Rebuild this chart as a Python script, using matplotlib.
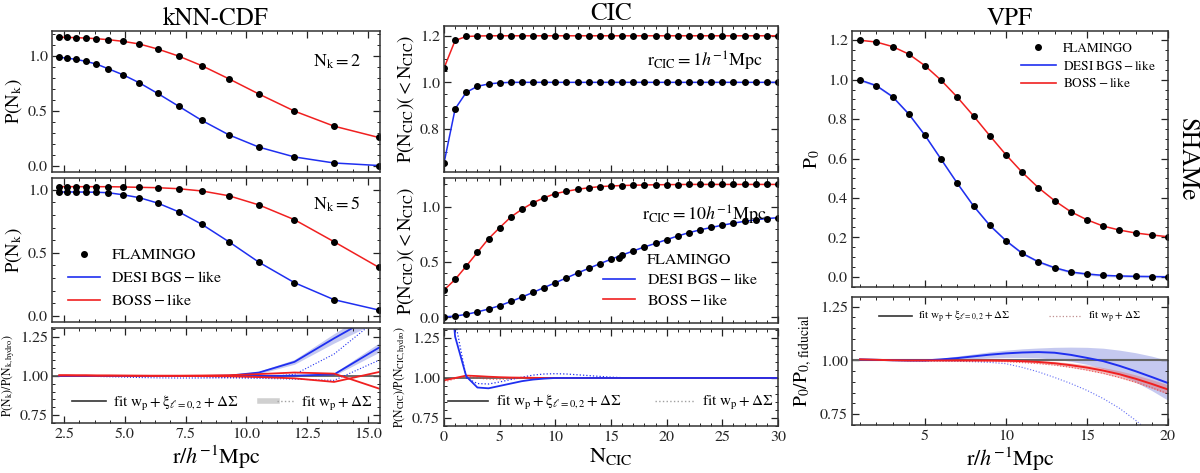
import numpy as np
import matplotlib
matplotlib.use('Agg')
import matplotlib.pyplot as plt
from matplotlib.ticker import MultipleLocator, AutoMinorLocator
from matplotlib.lines import Line2D
from matplotlib.legend_handler import HandlerTuple

plt.rcParams['font.family'] = ['STIXGeneral', 'DejaVu Serif']
plt.rcParams['mathtext.fontset'] = 'stix'

BLUE = '#1f2ff0'
RED = '#f02020'
BAND_BLUE = '#9fa6e6'
MS = 4.0

# ---- kNN-CDF ----
knn_r = [2.30, 2.60, 2.98, 3.39, 3.83, 4.32, 4.92, 5.59, 6.35, 7.21, 8.17, 9.28, 10.52, 11.98, 13.61, 15.45]
knn_k2_desi = [0.988, 0.982, 0.970, 0.952, 0.927, 0.884, 0.830, 0.757, 0.660, 0.544, 0.414, 0.283, 0.171, 0.082, 0.027, 0.004]
knn_k2_boss = [1.172, 1.170, 1.167, 1.164, 1.158, 1.149, 1.134, 1.110, 1.064, 1.000, 0.912, 0.793, 0.654, 0.499, 0.362, 0.259]
knn_k5_desi = [0.982, 0.982, 0.982, 0.981, 0.980, 0.976, 0.960, 0.937, 0.894, 0.825, 0.725, 0.587, 0.424, 0.262, 0.127, 0.045]
knn_k5_boss = [1.024, 1.024, 1.024, 1.024, 1.024, 1.024, 1.022, 1.019, 1.016, 1.008, 0.990, 0.952, 0.879, 0.762, 0.587, 0.384]

# ratios to hydro
knn_rat_k2_desi = [1.0, 1.0, 1.0, 1.0, 1.0, 1.0, 1.0, 1.0, 1.0, 1.0, 1.0, 1.002, 1.022, 1.09, 1.24, 1.40]
knn_rat_k2_desi_wp = [1.0, 1.0, 1.0, 0.998, 0.997, 0.995, 0.993, 0.990, 0.988, 0.987, 0.987, 0.988, 0.990, 1.01, 1.14, 1.37]
knn_rat_k5_desi = [1.0, 1.0, 1.0, 1.0, 1.0, 1.0, 1.0, 1.0, 1.0, 1.0, 1.0, 1.0, 1.0, 1.002, 1.01, 1.18]
knn_rat_k5_desi_wp = [1.0, 1.0, 1.0, 1.0, 1.0, 1.0, 1.0, 1.0, 1.0, 0.998, 0.995, 0.99, 0.985, 0.98, 0.972, 1.10]
knn_rat_k2_boss = [1.005, 1.005, 1.004, 1.004, 1.003, 1.003, 1.002, 1.002, 1.002, 1.002, 1.003, 1.005, 1.012, 1.022, 1.015, 0.92]
knn_rat_k5_boss = [1.003, 1.003, 1.003, 1.003, 1.002, 1.002, 1.002, 1.001, 1.0, 1.0, 0.999, 0.998, 0.993, 0.985, 0.962, 1.025]
knn_band_k2 = [0.003, 0.003, 0.003, 0.003, 0.003, 0.003, 0.003, 0.003, 0.003, 0.003, 0.003, 0.005, 0.008, 0.015, 0.03, 0.05]
knn_band_k5 = [0.003, 0.003, 0.003, 0.003, 0.003, 0.003, 0.003, 0.003, 0.003, 0.003, 0.003, 0.003, 0.003, 0.004, 0.008, 0.03]

# ---- CIC ----
cic_n = list(range(31))
cic_r1_desi = [0.653, 0.886, 0.957, 0.983, 0.993, 0.998] + [1.0] * 25
cic_r1_boss = [1.061, 1.180, 1.197, 1.199] + [1.2] * 27
cic_r10_desi = [0.005, 0.012, 0.028, 0.050, 0.076, 0.106, 0.144, 0.184, 0.226, 0.270, 0.313,
                0.357, 0.401, 0.443, 0.485, 0.525, 0.563, 0.600, 0.636, 0.668, 0.702,
                0.735, 0.765, 0.790, 0.812, 0.832, 0.851, 0.867, 0.881, 0.892, 0.900]
cic_r10_boss = [0.247, 0.343, 0.463, 0.587, 0.710, 0.810, 0.906, 0.976, 1.035, 1.080, 1.117,
                1.138, 1.156, 1.170, 1.180, 1.186, 1.190, 1.193, 1.195, 1.197, 1.198,
                1.199, 1.2, 1.2, 1.2, 1.2, 1.2, 1.2, 1.2, 1.2, 1.2]
cic_rat_desi = [2.0, 1.26, 1.01, 0.94, 0.935, 0.95, 0.965, 0.98, 0.99, 0.996, 1.0] + [1.0] * 20
cic_rat_desi_wp = [2.2, 1.36, 1.0, 0.965, 0.962, 0.975, 0.99, 1.005, 1.018, 1.025, 1.027,
                   1.025, 1.02, 1.015, 1.01, 1.005, 1.002] + [1.0] * 14
cic_rat_boss = [0.985, 1.0, 1.015, 1.012, 1.008, 1.005, 1.003, 1.002, 1.001] + [1.0] * 22
cic_rat_boss_wp = [0.975, 0.995, 1.01, 1.0, 0.992, 0.99, 0.995, 0.998, 1.0] + [1.0] * 22

# ---- VPF ----
vpf_r = list(range(1, 21))
vpf_desi = [0.998, 0.970, 0.914, 0.826, 0.718, 0.596, 0.474, 0.359, 0.261, 0.183,
            0.119, 0.076, 0.046, 0.024, 0.014, 0.007, 0.004, 0.002, 0.001, 0.0]
vpf_boss = [1.200, 1.191, 1.168, 1.130, 1.071, 0.997, 0.911, 0.816, 0.716, 0.619,
            0.530, 0.452, 0.386, 0.330, 0.289, 0.257, 0.237, 0.222, 0.212, 0.203]
vpf_rat_desi = [1.005, 1.003, 1.001, 1.0, 1.0, 1.005, 1.011, 1.019, 1.027, 1.033,
                1.037, 1.039, 1.036, 1.026, 1.012, 0.997, 0.975, 0.950, 0.923, 0.895]
vpf_band_desi_hi = [1.006, 1.004, 1.002, 1.002, 1.003, 1.01, 1.02, 1.03, 1.04, 1.048,
                    1.054, 1.058, 1.061, 1.062, 1.061, 1.057, 1.048, 1.036, 1.02, 1.0]
vpf_band_desi_lo = [1.004, 1.002, 1.0, 0.998, 0.998, 1.0, 1.004, 1.008, 1.012, 1.014,
                    1.014, 1.012, 1.006, 0.996, 0.982, 0.962, 0.935, 0.9, 0.86, 0.815]
vpf_rat_desi_wp = [1.003, 1.001, 1.0, 0.999, 0.998, 0.997, 0.996, 0.994, 0.991, 0.985,
                   0.968, 0.947, 0.921, 0.893, 0.861, 0.823, 0.778, 0.722, 0.660, 0.590]
vpf_rat_boss = [1.005, 1.003, 1.001, 1.0, 1.0, 1.0, 1.0, 1.0, 1.0, 0.999,
                0.997, 0.993, 0.987, 0.978, 0.967, 0.953, 0.936, 0.915, 0.891, 0.865]
vpf_band_boss = [0.001, 0.001, 0.001, 0.001, 0.001, 0.001, 0.002, 0.002, 0.003, 0.004,
                 0.005, 0.006, 0.008, 0.01, 0.012, 0.014, 0.016, 0.018, 0.02, 0.022]
vpf_rat_boss_wp = [1.004, 1.002, 1.0, 0.999, 0.999, 0.998, 0.998, 0.997, 0.996, 0.994,
                   0.99, 0.985, 0.978, 0.968, 0.955, 0.94, 0.921, 0.899, 0.873, 0.845]


W, H = 1200, 473
fig = plt.figure(figsize=(W / 100, H / 100), dpi=100)


def add_ax(x0, y0, x1, y1):
    return fig.add_axes([x0 / W, 1 - y1 / H, (x1 - x0) / W, (y1 - y0) / H])


def style(ax, xmaj, xminor_n, ymaj, ymin, labelx=True):
    ax.xaxis.set_major_locator(MultipleLocator(xmaj))
    ax.xaxis.set_minor_locator(AutoMinorLocator(xminor_n))
    ax.yaxis.set_major_locator(MultipleLocator(ymaj))
    ax.yaxis.set_minor_locator(MultipleLocator(ymin))
    ax.tick_params(which='both', direction='in', top=True, right=True, labelsize=11.5, colors='#222222')
    ax.tick_params(which='major', length=5, width=0.9, pad=3)
    ax.tick_params(which='minor', length=2.5, width=0.7)
    if not labelx:
        ax.tick_params(labelbottom=False)
    for s in ax.spines.values():
        s.set_linewidth(1.1)
        s.set_color('#333333')


def main_legend(ax, **kw):
    h = [Line2D([], [], ls='none', marker='o', color='k', ms=MS),
         Line2D([], [], color=BLUE, lw=1.2),
         Line2D([], [], color=RED, lw=1.2)]
    lab = ['FLAMINGO', r'$\mathrm{DESI\ BGS-like}$', r'$\mathrm{BOSS-like}$']
    ax.legend(h, lab, frameon=False, **kw)


def ratio_legend(ax, second, **kw):
    h = [Line2D([], [], color='#333333', lw=1.2), second]
    lab = [r'fit $\mathrm{w_p+\xi_{\ell=0,2}+\Delta\Sigma}$', r'fit $\mathrm{w_p+\Delta\Sigma}$']
    ax.legend(h, lab, frameon=False, ncol=2, handler_map={tuple: HandlerTuple(ndivide=None, pad=0)}, **kw)


# ================= kNN-CDF column =================
ax1 = add_ax(52, 31, 380, 172)
ax1.plot(knn_r, knn_k2_desi, color=BLUE, lw=1.1)
ax1.plot(knn_r, knn_k2_boss, color=RED, lw=1.1)
ax1.plot(knn_r, knn_k2_desi, 'o', color='k', ms=MS)
ax1.plot(knn_r, knn_k2_boss, 'o', color='k', ms=MS)
ax1.set_xlim(2.0, 15.5)
ax1.set_ylim(-0.055, 1.228)
style(ax1, 2.5, 4, 0.5, 0.1, labelx=False)
ax1.set_ylabel(r'$\mathrm{P(N_k)}$', fontsize=13.5, labelpad=3)
ax1.text(0.87, 0.78, r'$\mathrm{N_k=2}$', transform=ax1.transAxes, ha='center', va='center', fontsize=13)
ax1.set_title('kNN-CDF', fontsize=18, pad=3)

ax2 = add_ax(52, 178, 380, 322)
ax2.plot(knn_r, knn_k5_desi, color=BLUE, lw=1.1)
ax2.plot(knn_r, knn_k5_boss, color=RED, lw=1.1)
ax2.plot(knn_r, knn_k5_desi, 'o', color='k', ms=MS)
ax2.plot(knn_r, knn_k5_boss, 'o', color='k', ms=MS)
ax2.set_xlim(2.0, 15.5)
ax2.set_ylim(-0.05, 1.093)
style(ax2, 2.5, 4, 0.5, 0.1, labelx=False)
ax2.set_ylabel(r'$\mathrm{P(N_k)}$', fontsize=13.5, labelpad=3)
ax2.text(0.87, 0.82, r'$\mathrm{N_k=5}$', transform=ax2.transAxes, ha='center', va='center', fontsize=13)
main_legend(ax2, loc='lower left', bbox_to_anchor=(0.03, 0.05), fontsize=11.5,
            handlelength=2.0, labelspacing=0.5, handletextpad=0.7, borderaxespad=0)

ax3 = add_ax(52, 328, 380, 423)
ax3.axhline(1.0, color='#555555', lw=1.2)
lo2 = [v - b for v, b in zip(knn_rat_k2_desi, knn_band_k2)]
hi2 = [v + b for v, b in zip(knn_rat_k2_desi, knn_band_k2)]
lo5 = [v - b for v, b in zip(knn_rat_k5_desi, knn_band_k5)]
hi5 = [v + b for v, b in zip(knn_rat_k5_desi, knn_band_k5)]
ax3.fill_between(knn_r, lo2, hi2, color=BAND_BLUE, alpha=0.6, lw=0)
ax3.fill_between(knn_r, lo5, hi5, color=BAND_BLUE, alpha=0.6, lw=0)
ax3.plot(knn_r, knn_rat_k2_desi_wp, color=BLUE, lw=0.8, ls=':')
ax3.plot(knn_r, knn_rat_k5_desi_wp, color=BLUE, lw=0.8, ls=':')
ax3.plot(knn_r, knn_rat_k2_desi, color=BLUE, lw=1.3)
ax3.plot(knn_r, knn_rat_k5_desi, color=BLUE, lw=1.3)
ax3.plot(knn_r, knn_rat_k2_boss, color=RED, lw=1.3)
ax3.plot(knn_r, knn_rat_k5_boss, color=RED, lw=1.3)
ax3.set_xlim(2.0, 15.5)
ax3.set_ylim(0.70, 1.306)
style(ax3, 2.5, 4, 0.25, 0.05)
ax3.set_ylabel(r'$\mathrm{P(N_k)/P(N_{k,hydro})}$', fontsize=8.5, labelpad=2)
ax3.set_xlabel(r'$\mathrm{r}/h^{-1}\mathrm{Mpc}$', fontsize=16, labelpad=2)
ratio_legend(ax3, (Line2D([], [], color='#d0d0d0', lw=4), Line2D([], [], color='#a0a0a0', lw=1, ls=':')),
             loc='center', bbox_to_anchor=(0.52, 0.21), fontsize=11, handlelength=2.2,
             columnspacing=1.4, handletextpad=0.5)

# ================= CIC column =================
bx1 = add_ax(444, 26, 778, 172)
bx1.plot(cic_n, cic_r1_desi, color=BLUE, lw=1.1)
bx1.plot(cic_n, cic_r1_boss, color=RED, lw=1.1)
bx1.plot(cic_n, cic_r1_desi, 'o', color='k', ms=MS)
bx1.plot(cic_n, cic_r1_boss, 'o', color='k', ms=MS)
bx1.set_xlim(0, 30)
bx1.set_ylim(0.615, 1.242)
style(bx1, 5, 5, 0.2, 0.05, labelx=False)
bx1.set_ylabel(r'$\mathrm{P(N_{CIC})(<N_{CIC})}$', fontsize=13.5, labelpad=3)
bx1.text(0.78, 0.76, r'$\mathrm{r_{CIC}=1}h^{-1}\mathrm{Mpc}$', transform=bx1.transAxes,
         ha='center', va='center', fontsize=13)
bx1.set_title('CIC', fontsize=18, pad=3)

bx2 = add_ax(444, 178, 778, 323)
bx2.plot(cic_n, cic_r10_desi, color=BLUE, lw=1.1)
bx2.plot(cic_n, cic_r10_boss, color=RED, lw=1.1)
bx2.plot(cic_n, cic_r10_desi, 'o', color='k', ms=MS)
bx2.plot(cic_n, cic_r10_boss, 'o', color='k', ms=MS)
bx2.set_xlim(0, 30)
bx2.set_ylim(-0.05, 1.258)
style(bx2, 5, 5, 0.5, 0.1, labelx=False)
bx2.set_ylabel(r'$\mathrm{P(N_{CIC})(<N_{CIC})}$', fontsize=13.5, labelpad=3)
bx2.text(0.78, 0.745, r'$\mathrm{r_{CIC}=10}h^{-1}\mathrm{Mpc}$', transform=bx2.transAxes,
         ha='center', va='center', fontsize=13)
main_legend(bx2, loc='lower right', bbox_to_anchor=(0.96, 0.06), fontsize=11.5,
            handlelength=2.0, labelspacing=0.35, handletextpad=0.7, borderaxespad=0)

bx3 = add_ax(444, 329, 778, 426)
bx3.axhline(1.0, color='#555555', lw=1.2)
bx3.plot(cic_n, cic_rat_desi_wp, color=BLUE, lw=0.9, ls=':')
bx3.plot(cic_n, cic_rat_boss_wp, color=RED, lw=0.9, ls=':', alpha=0.6)
bx3.plot(cic_n, cic_rat_boss, color=RED, lw=1.3)
bx3.plot(cic_n, cic_rat_desi, color=BLUE, lw=1.3)
bx3.set_xlim(0, 30)
bx3.set_ylim(0.698, 1.308)
style(bx3, 5, 5, 0.25, 0.05)
bx3.set_ylabel(r'$\mathrm{P(N_{CIC})/P(N_{CIC,hydro})}$', fontsize=8.5, labelpad=2)
bx3.set_xlabel(r'$\mathrm{N_{CIC}}$', fontsize=16, labelpad=2)
ratio_legend(bx3, Line2D([], [], color='#a0a0a0', lw=1, ls=':'),
             loc='center', bbox_to_anchor=(0.5, 0.24), fontsize=11, handlelength=2.6,
             columnspacing=2.2, handletextpad=0.5)

# ================= VPF column =================
cx1 = add_ax(852, 31, 1168, 287)
cx1.fill_between(vpf_r, [v - 0.006 for v in vpf_desi], [v + 0.006 for v in vpf_desi],
                 color=BAND_BLUE, alpha=0.5, lw=0)
cx1.plot(vpf_r, vpf_desi, color=BLUE, lw=1.1)
cx1.plot(vpf_r, vpf_boss, color=RED, lw=1.1)
cx1.plot(vpf_r, vpf_desi, 'o', color='k', ms=MS)
cx1.plot(vpf_r, vpf_boss, 'o', color='k', ms=MS)
cx1.set_xlim(0.5, 20)
cx1.set_ylim(-0.052, 1.247)
style(cx1, 5, 5, 0.2, 0.05, labelx=False)
cx1.set_ylabel(r'$\mathrm{P_0}$', fontsize=14)
cx1.set_title('VPF', fontsize=18, pad=3)
main_legend(cx1, loc='upper right', bbox_to_anchor=(0.98, 0.975), fontsize=9.5,
            handlelength=2.6, labelspacing=0.35, handletextpad=0.6, borderaxespad=0)

cx2 = add_ax(852, 297, 1168, 425)
cx2.fill_between(vpf_r, vpf_band_desi_lo, vpf_band_desi_hi, color=BAND_BLUE, alpha=0.6, lw=0)
cx2.fill_between(vpf_r, [v - b for v, b in zip(vpf_rat_boss, vpf_band_boss)],
                 [v + b for v, b in zip(vpf_rat_boss, vpf_band_boss)], color='#e07070', alpha=0.45, lw=0)
cx2.axhline(1.0, color='#666666', lw=1.5)
cx2.plot(vpf_r, vpf_rat_desi_wp, color=BLUE, lw=0.8, ls=':', alpha=0.7)
cx2.plot(vpf_r, vpf_rat_boss_wp, color=RED, lw=0.8, ls=':', alpha=0.7)
cx2.plot(vpf_r, vpf_rat_desi, color=BLUE, lw=1.4)
cx2.plot(vpf_r, vpf_rat_boss, color=RED, lw=1.4)
cx2.set_xlim(0.5, 20)
cx2.set_ylim(0.70, 1.295)
style(cx2, 5, 5, 0.25, 0.05)
cx2.set_ylabel(r'$\mathrm{P_0/P_{0,\,fiducial}}$', fontsize=14)
cx2.set_xlabel(r'$\mathrm{r}/h^{-1}\mathrm{Mpc}$', fontsize=16, labelpad=2)
ratio_legend(cx2, Line2D([], [], color='#c09090', lw=0.9, ls=':'),
             loc='upper center', bbox_to_anchor=(0.5, 0.985), fontsize=8, handlelength=3.0,
             columnspacing=3.5, handletextpad=0.5)

fig.text(1187 / W, 1 - 160 / H, 'SHAMe', rotation=270, ha='center', va='center', fontsize=18)

fig.savefig('out.png', dpi=100)
